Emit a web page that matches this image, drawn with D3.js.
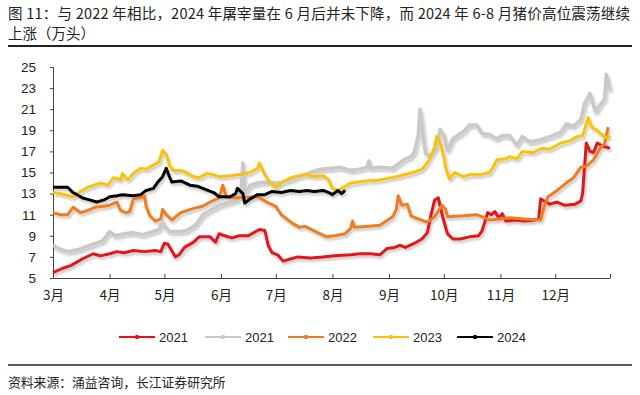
<!DOCTYPE html>
<html lang="zh">
<head>
<meta charset="UTF-8">
<title>屠宰量</title>
<style>
  body { margin: 0; background: #fff; }
  svg text { font-family: "Liberation Sans", "Noto Sans CJK SC", sans-serif; fill: #222; }
  .cn { font-family: "Noto Sans CJK SC", "Liberation Sans", sans-serif; }
</style>
</head>
<body>
<svg id="chart"></svg>
<script src="https://cdn.jsdelivr.net/npm/d3@7"></script>
<script>

// [日期, 万头]
var s2021a = [["03-01",5.5],["03-06",5.9],["03-11",6.2],["03-17",6.8],["03-23",7.3],["03-27",7.1],["04-01",7.3],["04-05",7.5],["04-09",7.4],["04-14",7.6],["04-20",7.5],["04-26",7.6],["04-29",7.5],["05-01",8.3],["05-03",8.2],["05-05",7.6],["05-07",7.0],["05-09",7.2],["05-12",7.9],["05-17",8.4],["05-20",8.9],["05-26",8.9],["05-29",8.4],["05-31",9.2],["06-03",9.0],["06-07",8.8],["06-11",9.0],["06-16",9.0],["06-19",9.3],["06-22",9.6],["06-25",9.5],["06-27",8.0],["06-29",7.4],["07-02",7.2],["07-05",6.6],["07-09",6.8],["07-13",7.0],["07-20",6.9],["07-27",7.0],["08-02",7.1],["08-11",7.2],["08-16",7.3],["08-22",7.3],["08-27",7.2],["08-31",7.8],["09-04",7.9],["09-07",8.1],["09-10",7.9],["09-15",8.3],["09-19",8.7],["09-22",9.3],["09-24",11.0],["09-26",12.4],["09-28",12.6],["09-29",11.8],["10-01",10.4],["10-03",9.2],["10-06",8.7],["10-10",8.7],["10-15",8.9],["10-20",9.0],["10-22",9.5],["10-25",11.2],["10-27",11.0],["10-29",11.3],["10-31",10.7],["11-02",11.1],["11-04",10.4],["11-09",10.5],["11-14",10.4],["11-20",10.5],["11-22",10.6],["11-23",12.5],["11-25",12.3],["11-28",12.0],["12-02",12.2],["12-06",11.9],["12-12",12.0],["12-15",12.3],["12-16",13.0],["12-18",17.8],["12-20",17.0],["12-22",16.9],["12-24",17.8],["12-27",17.5],["12-29",17.4],["12-31",17.3]];

var s2021b = [["03-01",8.1],["03-04",7.8],["03-09",7.5],["03-15",7.7],["03-23",8.2],["03-28",8.5],["04-01",9.4],["04-04",9.0],["04-09",9.2],["04-14",9.3],["04-19",9.1],["04-23",9.3],["04-28",9.6],["04-30",10.3],["05-02",9.7],["05-04",9.4],["05-10",9.4],["05-13",9.5],["05-18",10.0],["05-22",11.0],["05-27",11.5],["05-31",11.9],["06-06",12.2],["06-10",12.4],["06-12",13.5],["06-13",15.9],["06-14",13.0],["06-17",13.8],["06-21",14.0],["06-26",14.1],["07-01",14.0],["07-05",14.1],["07-12",14.5],["07-20",15.0],["07-25",15.3],["07-31",15.4],["08-05",15.5],["08-11",15.2],["08-16",15.3],["08-20",15.5],["08-21",16.1],["08-22",15.4],["08-27",15.5],["09-03",15.4],["09-09",16.2],["09-13",16.5],["09-15",17.0],["09-17",18.5],["09-18",21.0],["09-20",18.0],["09-21",16.8],["09-24",16.6],["09-27",17.4],["09-29",19.1],["10-01",18.5],["10-03",17.1],["10-06",18.2],["10-12",18.9],["10-15",19.5],["10-19",19.5],["10-22",18.7],["10-26",18.6],["10-30",18.2],["11-02",18.5],["11-06",18.5],["11-10",17.6],["11-13",18.4],["11-17",17.9],["11-23",18.1],["11-28",18.4],["12-04",18.8],["12-07",19.6],["12-11",19.4],["12-15",20.0],["12-17",21.5],["12-20",22.5],["12-23",20.8],["12-26",21.5],["12-28",22.0],["12-29",24.3],["12-31",22.8]];

var s2022 = [["03-01",11.2],["03-05",11.0],["03-09",11.0],["03-12",11.7],["03-16",11.2],["03-20",11.4],["03-24",11.7],["03-29",11.8],["04-01",11.9],["04-05",12.2],["04-07",11.4],["04-10",11.2],["04-12",11.3],["04-14",12.5],["04-18",12.6],["04-20",12.8],["04-21",11.8],["04-23",10.9],["04-26",10.4],["04-29",10.6],["04-30",11.5],["05-02",11.0],["05-05",10.5],["05-10",11.2],["05-17",11.6],["05-22",11.8],["05-26",12.2],["05-31",12.6],["06-02",13.8],["06-04",12.6],["06-11",12.6],["06-21",12.7],["06-26",12.2],["07-01",11.8],["07-04",11.0],["07-10",10.2],["07-14",9.8],["07-17",9.9],["07-24",9.3],["07-29",8.9],["08-02",9.0],["08-08",9.2],["08-11",9.7],["08-12",10.4],["08-13",9.8],["08-21",9.9],["08-27",10.0],["09-03",10.8],["09-05",11.5],["09-06",12.8],["09-08",11.9],["09-11",12.0],["09-13",10.9],["09-17",10.6],["09-22",10.3],["09-26",10.8],["09-30",11.9],["10-02",11.5],["10-03",10.8],["10-12",10.9],["10-19",11.0],["10-26",10.5],["11-01",10.6],["11-06",10.7],["11-14",10.6],["11-23",10.5],["11-25",11.8],["11-27",12.7],["12-02",13.3],["12-07",14.0],["12-11",14.5],["12-15",15.5],["12-18",15.6],["12-22",16.2],["12-26",17.4],["12-28",17.7],["12-30",19.3]];

var s2023 = [["03-01",13.1],["03-05",13.0],["03-12",12.7],["03-16",13.2],["03-20",13.6],["03-27",14.0],["03-31",13.8],["04-03",14.5],["04-07",14.3],["04-08",14.9],["04-11",14.3],["04-14",14.9],["04-18",15.4],["04-21",15.3],["04-25",15.7],["04-28",16.0],["04-30",17.1],["05-02",16.7],["05-04",15.6],["05-06",15.2],["05-10",15.2],["05-13",15.0],["05-17",14.6],["05-20",14.5],["05-24",14.9],["05-28",14.8],["05-31",14.6],["06-06",14.7],["06-11",14.8],["06-17",15.0],["06-21",15.4],["06-22",15.9],["06-25",14.8],["06-28",14.0],["07-01",13.6],["07-04",14.0],["07-09",14.5],["07-14",14.7],["07-18",14.8],["07-22",14.6],["07-27",14.7],["07-30",14.3],["08-01",13.5],["08-04",13.3],["08-08",13.7],["08-11",14.0],["08-19",14.2],["08-27",14.3],["09-05",14.6],["09-14",15.0],["09-19",15.3],["09-22",15.9],["09-24",16.6],["09-26",17.4],["09-27",18.4],["09-29",17.9],["10-01",16.5],["10-02",15.5],["10-04",14.4],["10-07",15.0],["10-12",14.6],["10-15",14.8],["10-21",14.8],["10-26",15.0],["10-28",15.5],["10-30",16.2],["11-04",16.3],["11-06",16.5],["11-10",16.3],["11-13",17.0],["11-19",16.9],["11-24",17.3],["11-28",17.2],["12-04",17.8],["12-09",18.0],["12-13",18.4],["12-16",18.5],["12-19",20.2],["12-21",19.3],["12-24",19.0],["12-27",18.5],["12-29",18.3],["12-31",18.5]];

var s2024 = [["03-01",13.6],["03-05",13.6],["03-09",13.6],["03-12",13.1],["03-17",12.6],["03-21",12.4],["03-25",12.2],["03-29",12.4],["04-01",12.7],["04-05",12.8],["04-08",12.9],["04-14",12.8],["04-18",12.9],["04-21",13.3],["04-25",13.5],["04-27",14.0],["04-30",14.6],["05-02",15.4],["05-04",14.5],["05-05",14.1],["05-10",14.2],["05-15",13.8],["05-19",13.7],["05-22",13.5],["05-28",13.1],["05-31",12.7],["06-06",12.7],["06-09",13.0],["06-10",13.5],["06-13",13.0],["06-14",12.1],["06-17",12.5],["06-21",12.9],["06-25",12.9],["06-29",13.2],["07-04",13.1],["07-09",13.3],["07-14",13.2],["07-18",13.3],["07-22",13.2],["07-27",13.3],["07-30",13.1],["08-01",12.9],["08-04",13.3],["08-06",13.0],["08-08",13.3]];

var seriesNames = ["2021", "2021", "2022", "2023", "2024"];
var seriesColors = ["#e3141b", "#c9c9c9", "#f07c22", "#fbc20a", "#000000"];
var seriesData = [s2021a, s2021b, s2022, s2023, s2024];

var yTicks = [5, 7, 9, 11, 13, 15, 17, 19, 21, 23, 25];
var monthTicks = ["03-01","04-01","05-01","06-01","07-01","08-01","09-01","10-01","11-01","12-01"];

var W = 640, H = 395;
var plotL = 53, plotR = 610, plotT = 67, plotB = 278;

var parse = function (s) { return d3.utcParse("%Y-%m-%d")("2021-" + s); };

var svg = d3.select("#chart").attr("width", W).attr("height", H);

var defs = svg.append("defs");
var f = defs.append("filter").attr("id", "shadow")
    .attr("x", "-5%").attr("y", "-20%").attr("width", "110%").attr("height", "140%");
f.append("feDropShadow").attr("dx", 1.5).attr("dy", 2.5).attr("stdDeviation", 1.2)
    .attr("flood-color", "#000").attr("flood-opacity", 0.22);

// 标题
svg.append("text").attr("class", "cn").attr("x", 8).attr("y", 19)
    .style("font-size", "14.5px")
    .attr("textLength", 622).attr("lengthAdjust", "spacing")
    .text("图 11：与 2022 年相比，2024 年屠宰量在 6 月后并未下降，而 2024 年 6-8 月猪价高位震荡继续");
svg.append("text").attr("class", "cn").attr("x", 8).attr("y", 39)
    .style("font-size", "14.5px")
    .text("上涨（万头）");
svg.append("line").attr("x1", 8).attr("x2", 632).attr("y1", 46).attr("y2", 46)
    .attr("stroke", "#222").attr("stroke-width", 2);

var x = d3.scaleUtc().domain([parse("03-01"), parse("12-31")]).range([plotL, plotR]);
var y = d3.scaleLinear().domain([5, 25]).range([plotB, plotT]);

// y 轴
var yAxis = d3.axisLeft(y).tickValues(yTicks).tickSize(3).tickPadding(14);
var gy = svg.append("g").attr("transform", "translate(" + plotL + ",0)").call(yAxis);
gy.selectAll("text").style("font-size", "13.5px").attr("fill", "#222");
gy.selectAll("line, path").attr("stroke", "#444");

// x 轴
var xTickDates = monthTicks.map(parse).concat([parse("12-31")]);
var xAxis = d3.axisBottom(x).tickValues(xTickDates).tickSizeInner(-4).tickSizeOuter(0).tickPadding(12)
    .tickFormat(function (d) {
        return d.getUTCMonth() == 11 && d.getUTCDate() == 31 ? "" : (d.getUTCMonth() + 1) + "月";
    });
var gx = svg.append("g").attr("transform", "translate(0," + plotB + ")").call(xAxis);
gx.selectAll("text").attr("class", "cn").style("font-size", "13.5px").attr("fill", "#222");
gx.selectAll("line, path").attr("stroke", "#444");

var line = d3.line()
    .x(function (d) { return x(parse(d[0])); })
    .y(function (d) { return y(d[1]); })
    .curve(d3.curveLinear);

svg.append("g").attr("filter", "url(#shadow)")
    .selectAll("path.series")
    .data(seriesData)
    .enter()
    .append("path")
    .attr("class", "series")
    .attr("d", line)
    .attr("fill", "none")
    .attr("stroke", function (d, i) { return seriesColors[i]; })
    .attr("stroke-width", function (d, i) { return i == 1 ? 3.6 : 3; })
    .attr("stroke-linejoin", "round");

// 图例
var legendX = [119, 205, 288, 373, 457];
var lg = svg.append("g").selectAll("g").data(seriesNames).enter().append("g")
    .attr("transform", function (d, i) { return "translate(" + legendX[i] + ",337)"; });
lg.append("line").attr("x1", 0).attr("x2", 36).attr("y1", 0).attr("y2", 0)
    .attr("stroke", function (d, i) { return seriesColors[i]; }).attr("stroke-width", 2);
lg.append("circle").attr("cx", 18).attr("cy", 0).attr("r", 2.2)
    .attr("fill", function (d, i) { return seriesColors[i]; });
lg.append("text").attr("x", 40).attr("y", 5).style("font-size", "13px").text(function (d) { return d; });

// 来源
svg.append("line").attr("x1", 8).attr("x2", 632).attr("y1", 365).attr("y2", 365)
    .attr("stroke", "#222").attr("stroke-width", 1.5);
svg.append("text").attr("class", "cn").attr("x", 8).attr("y", 387)
    .style("font-size", "12.8px")
    .text("资料来源：涌益咨询，长江证券研究所");

</script>
</body>
</html>
